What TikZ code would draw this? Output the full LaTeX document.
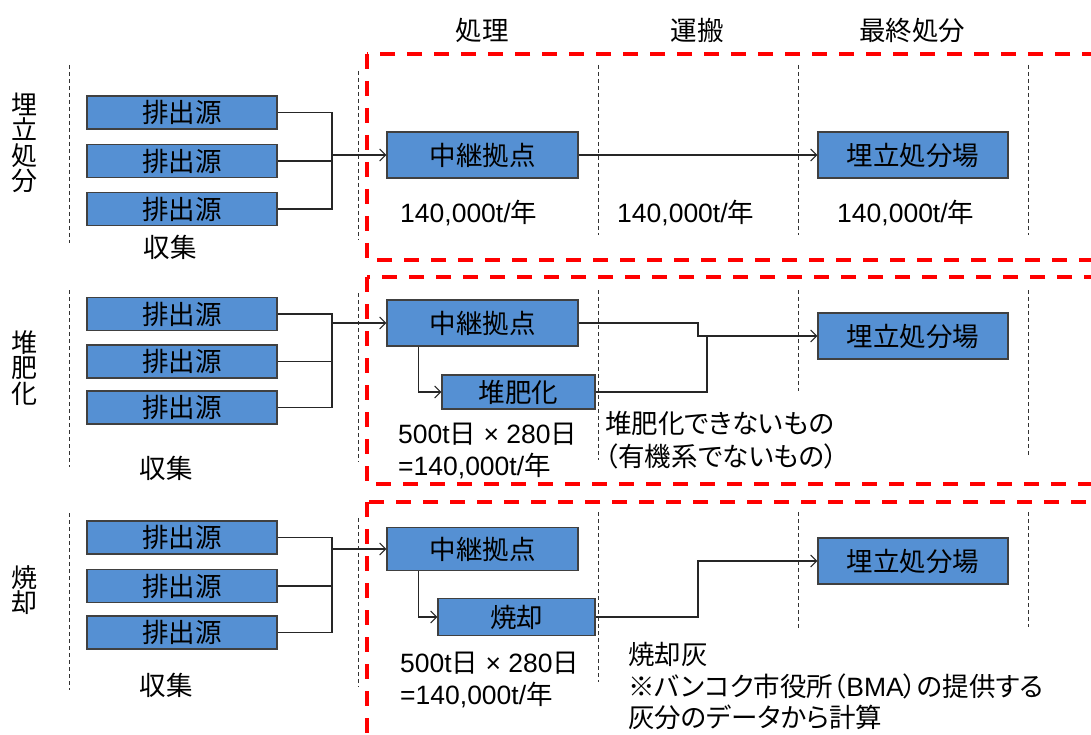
\documentclass[tikz,border=0pt]{standalone}
\usepackage{fontspec}
\setmainfont{Liberation Sans}
\newfontfamily\cjk{Noto Sans CJK JP}
\newfontfamily\cjkp[RawFeature=+palt]{Noto Sans CJK JP}
\usetikzlibrary{arrows.meta,calc}
\newcommand\J[1]{{\cjk #1}}
\newcommand\JP[1]{{\cjkp #1}}
\definecolor{boxblue}{HTML}{5590D3}
\begin{document}
\begin{tikzpicture}[x=1pt,y=-1pt,
  every node/.style={font=\fontsize{26.5}{32}\selectfont, inner sep=0pt},
  bbox/.style={draw=black!75, line width=1.1pt, fill=boxblue, font=\cjk\fontsize{26.5}{30}\selectfont},
  srcbox/.style={bbox, minimum width=190pt, minimum height=33pt},
  bigbox/.style={bbox, minimum width=191pt, minimum height=46pt},
  link/.style={line width=1.1pt, black!85},
  arr/.style={link, -{Straight Barb[length=6pt,width=12pt]}},
  vdash/.style={line width=0.9pt, black!80, dash pattern=on 4pt off 3pt},
  redbox/.style={draw=red, line width=4pt, dash pattern=on 15pt off 12pt},
  lbl/.style={font=\cjk\fontsize{26.5}{32}\selectfont},
  vlbl/.style={align=center, font=\cjk\fontsize{26}{25.5}\selectfont},
  ]
\useasboundingbox (0,0) rectangle (1091,735);
\clip (0,0) rectangle (1091,735);

% red dashed regions
\draw[redbox] (367,54) rectangle (1120,260);
\draw[redbox] (367,277) rectangle (1120,484);
\draw[redbox] (367,502) rectangle (1120,770);

% column separators
\foreach \x/\a/\b in {69/65/243, 358/71/240, 598/65/235, 798/65/235, 1028/65/235,
                      69/290/467, 358/293/462, 598/290/460, 798/290/391, 1028/290/457,
                      69/513/690, 358/518/687, 598/512/682, 798/512/630, 1028/512/627}
  \draw[vdash] (\x,\a) -- (\x,\b);

% column titles
\node[lbl] (t1) at (482,30) {処理};
\node[lbl] (t2) at (697,30) {運搬};
\node[lbl] (t3) at (912,30) {最終処分};

% row labels
\node[vlbl] (r1) at (25,143) {埋\\立\\処\\分};
\node[vlbl] (r2) at (25,368) {堆\\肥\\化};
\node[vlbl] (r3) at (25,590) {焼\\却};

% ---------- row 1 ----------
\node[srcbox] (s11) at (182,112.5) {排出源};
\node[srcbox] (s12) at (182,161) {排出源};
\node[srcbox] (s13) at (182,209) {排出源};
\node[lbl] (c1) at (170,247) {収集};
\node[bigbox] (h1) at (482.5,155) {中継拠点};
\node[bigbox, minimum width=190pt] (l1) at (913,155) {埋立処分場};
\coordinate (b1) at (332,155);
\draw[link] (s11.east) -| (b1);
\draw[link] (s13.east) -| (b1);
\draw[link] (s12.east) -- (s12.east -| b1);
\draw[arr] (b1) -- (h1.west);
\draw[arr] (h1.east) -- (l1.west);
\node[anchor=west] (q11) at (400,213) {140,000t/\J{年}};
\node[anchor=west] (q12) at (617,213) {140,000t/\J{年}};
\node[anchor=west] (q13) at (837,213) {140,000t/\J{年}};

% ---------- row 2 ----------
\node[srcbox] (s21) at (182,314) {排出源};
\node[srcbox] (s22) at (182,361.5) {排出源};
\node[srcbox] (s23) at (182,407.5) {排出源};
\node[lbl] (c2) at (166,468) {収集};
\node[bigbox] (h2) at (482.5,323) {中継拠点};
\node[bbox, minimum width=153pt, minimum height=34pt] (p2) at (518.5,392) {堆肥化};
\node[bigbox, minimum width=190pt] (l2) at (913,336) {埋立処分場};
\coordinate (b2) at (332,323);
\draw[link] (s21.east) -| (b2);
\draw[link] (s23.east) -| (b2);
\draw[link] (s22.east) -- (s22.east -| b2);
\draw[arr] (b2) -- (h2.west);
\draw[arr] ([xshift=32pt]h2.south west) |- (p2.west);
\coordinate (k2) at (698,336);
\coordinate (u2) at (707,336);
\draw[link] (p2.east) -| (u2);
\draw[arr] (h2.east) -| (k2) -- (l2.west);
\node[anchor=west, align=left] (n2) at (398,451) {500t\J{日} × 280\J{日}\\=140,000t/\J{年}};
\node[anchor=west, align=left, font=\cjkp\fontsize{26.5}{33}\selectfont] (m2) at (605,440) {堆肥化できないもの\\（有機系でないもの）};

% ---------- row 3 ----------
\node[srcbox] (s31) at (182,537.5) {排出源};
\node[srcbox] (s32) at (182,586) {排出源};
\node[srcbox] (s33) at (182,632.5) {排出源};
\node[lbl] (c3) at (166,685) {収集};
\node[bbox, minimum width=191pt, minimum height=43pt] (h3) at (482.5,549) {中継拠点};
\node[bbox, minimum width=157pt, minimum height=37pt] (p3) at (516.5,617) {焼却};
\node[bigbox, minimum width=190pt] (l3) at (913,561) {埋立処分場};
\coordinate (b3) at (332,549);
\draw[link] (s31.east) -| (b3);
\draw[link] (s33.east) -| (b3);
\draw[link] (s32.east) -- (s32.east -| b3);
\draw[arr] (b3) -- (h3.west);
\draw[arr] ([xshift=32pt]h3.south west) |- (p3.west);
\coordinate (k3) at (698,561);
\draw[arr] (p3.east) -| (k3) -- (l3.west);
\node[anchor=west, align=left] (n3) at (400,680) {500t\J{日} × 280\J{日}\\=140,000t/\J{年}};
\node[anchor=west, align=left, font=\fontsize{26.5}{31.5}\selectfont] (m3) at (628,686) {\JP{焼却灰}\\\JP{※バンコク市役所（}BMA\JP{）の提供する}\\\JP{灰分のデータから計算}};
\end{tikzpicture}
\end{document}
